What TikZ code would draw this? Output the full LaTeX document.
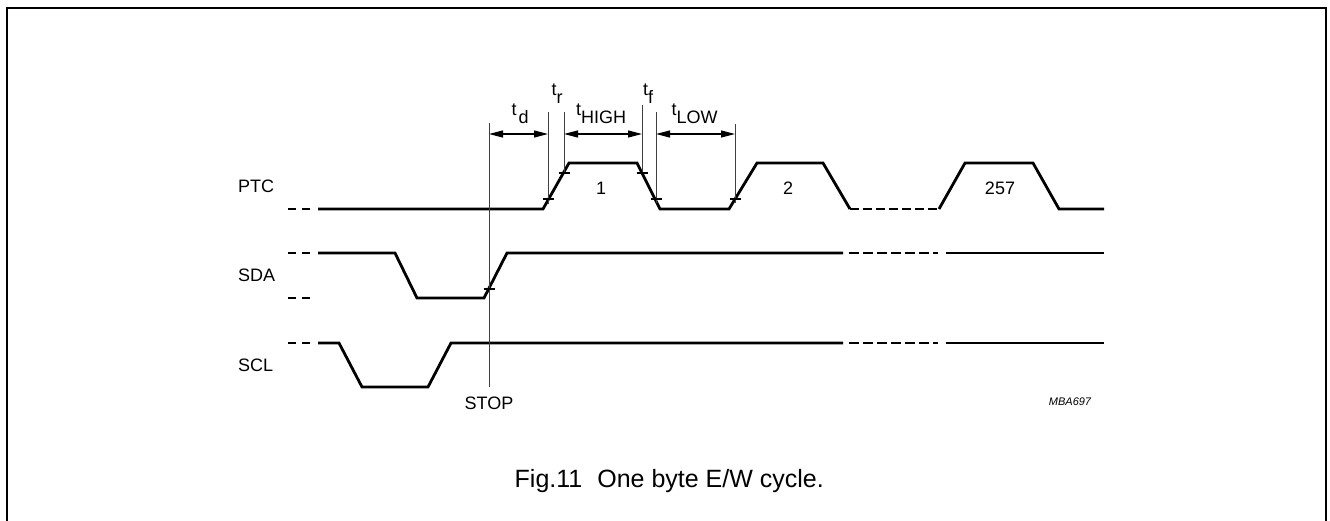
\documentclass[tikz,border=0pt]{standalone}
\usepackage{fontspec}
\setmainfont{Liberation Sans}
\usetikzlibrary{arrows.meta}
\begin{document}
\begin{tikzpicture}[x=1pt,y=-1pt,
  sig/.style={line width=2.8pt},
  sigdash/.style={line width=2.8pt, dash pattern=on 10pt off 4pt},
  meas/.style={line width=1pt, black!75},
  tickmark/.style={line width=1.3pt},
  dimline/.style={line width=1.3pt, {Triangle[length=14pt,width=7pt]}-{Triangle[length=14pt,width=7pt]}},
  lbl/.style={inner sep=0pt, font=\fontsize{18}{20}\selectfont},
  ]
\useasboundingbox (0,0) rectangle (1330,520);
% frame
\draw[line width=2pt] (7,521) -- (7,8) -- (1326,8) -- (1326,521);

% PTC
\draw[sig] (288,209)--(296,209) (302,209)--(310,209);
\draw[sig] (318,209) -- (543,209) -- (569,163) -- (637,163) -- (660,209) -- (729,209) -- (757,163) -- (823,163) -- (850,209);
\draw[sig, dash pattern=on 9pt off 4pt] (850,209) -- (939,209);
\draw[sig] (939,209) -- (965,163) -- (1033,163) -- (1059,209) -- (1104,209);

% SDA
\draw[sig] (288,253)--(296,253) (302,253)--(310,253) (288,298)--(296,298) (302,298)--(310,298);
\draw[sig] (318,253) -- (395,253) -- (417,298) -- (484,298) -- (507,253) -- (843,253);
\draw[sigdash] (849,253) -- (938,253);
\draw[sig] (946,253) -- (1104,253);

% SCL
\draw[sig] (288,343)--(296,343) (302,343)--(310,343);
\draw[sig] (318,343) -- (339,343) -- (362,387) -- (428,387) -- (451,343) -- (843,343);
\draw[sigdash] (849,343) -- (938,343);
\draw[sig] (946,343) -- (1104,343);

% measurement lines
\coordinate (stopT) at (489,123); \coordinate (stopB) at (489,387);
\coordinate (rA) at (548,112);   \coordinate (rAb) at (548,204);
\coordinate (rB) at (564,112);   \coordinate (rBb) at (564,174);
\coordinate (fA) at (642,105);   \coordinate (fAb) at (642,174);
\coordinate (fB) at (656,112);   \coordinate (fBb) at (656,203);
\coordinate (lw) at (735,124);   \coordinate (lwb) at (735,203);
\draw[meas] (stopT) -- (stopB);
\draw[meas] (rA) -- (rAb);
\draw[meas] (rB) -- (rBb);
\draw[meas] (fA) -- (fAb);
\draw[meas] (fB) -- (fBb);
\draw[meas] (lw) -- (lwb);

% ticks
\draw[tickmark] (542.5,199) -- (553.5,199);
\draw[tickmark] (558.5,173) -- (569.5,173);
\draw[tickmark] (636.5,173) -- (647.5,173);
\draw[tickmark] (650.5,199) -- (661.5,199);
\draw[tickmark] (729.5,199) -- (740.5,199);
\draw[tickmark] (483.5,289) -- (494.5,289);

% dimension arrows
\coordinate (dA1) at (489,134); \coordinate (dA2) at (548,134);
\coordinate (dB1) at (564,134); \coordinate (dB2) at (642,134);
\coordinate (dC1) at (656,134); \coordinate (dC2) at (735,134);
\draw[dimline] (dA1) -- (dA2);
\draw[dimline] (dB1) -- (dB2);
\draw[dimline] (dC1) -- (dC2);

% timing labels
\node[lbl, anchor=base west] (td) at (511.5,115) {t\raisebox{-8pt}{\hspace{2pt}d}};
\node[lbl, anchor=base west] (tr) at (551.5,95) {t\raisebox{-8pt}{r}};
\node[lbl, anchor=base west] (th) at (576,115) {t\raisebox{-8pt}{HIGH}};
\node[lbl, anchor=base west] (tf) at (643,95) {t\raisebox{-8pt}{f}};
\node[lbl, anchor=base west] (tl) at (671.5,115) {t\raisebox{-8pt}{LOW}};

% pulse numbers
\node[lbl, anchor=base] (n1) at (601,194) {1};
\node[lbl, anchor=base] (n2) at (788,194) {2};
\node[lbl, anchor=base] (n3) at (1000,194) {257};

% signal names
\node[lbl, anchor=west] (ptc) at (238,186) {PTC};
\node[lbl, anchor=west] (sda) at (238,275.5) {SDA};
\node[lbl, anchor=west] (scl) at (238,365) {SCL};

\node[lbl, anchor=center] (stop) at (489,403) {STOP};
\node[inner sep=0pt, anchor=center, font=\fontsize{11}{13}\selectfont\itshape] (code) at (1070,402) {MBA697};

\node[inner sep=0pt, anchor=base east, font=\fontsize{25}{28}\selectfont] (cap) at (824,487) {Fig.11\hspace{0.6em}One byte E/W cycle.};
\end{tikzpicture}
\end{document}
